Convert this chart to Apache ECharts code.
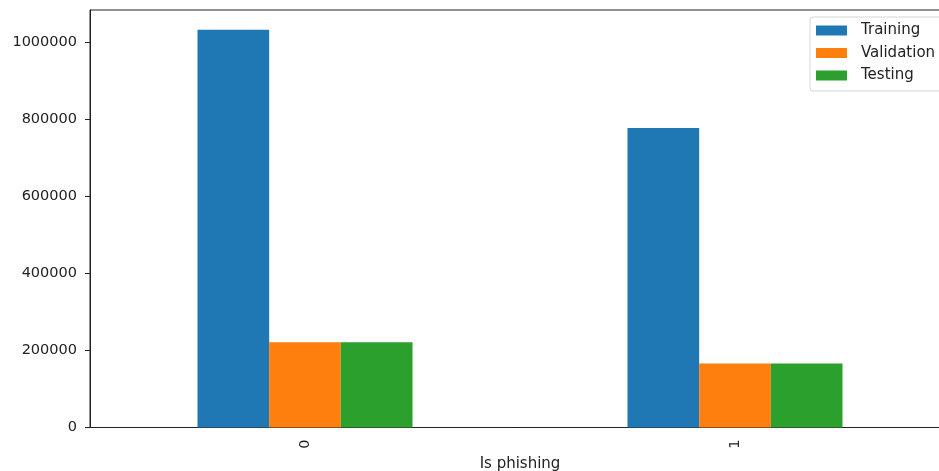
<!DOCTYPE html>
<html>
<head>
<meta charset="utf-8">
<script src="https://cdn.jsdelivr.net/npm/echarts@6/dist/echarts.min.js"></script>
<style>html,body{margin:0;padding:0;background:#fff;}#c{width:939px;height:471px;}</style>
</head>
<body>
<div id="c"></div>
<script>
const categories = ['0', '1'];
const training = [1032000, 777000];
const validation = [221000, 166000];
const testing = [221000, 166000];
const yTicks = [0, 200000, 400000, 600000, 800000, 1000000];
const yMax = 1083000;

const chart = echarts.init(document.getElementById('c'), null, {renderer: 'canvas'});
const font = 'DejaVu Sans';
chart.setOption({
  animation: false,
  color: ['#1f77b4', '#ff7f0e', '#2ca02c'],
  grid: {left: 90, top: 10, width: 860, height: 417.5, containLabel: false, outerBoundsMode: 'none',
         show: true, borderColor: '#222', borderWidth: 1, backgroundColor: 'transparent'},
  legend: {
    orient: 'vertical', left: 810, top: 17, itemWidth: 31, itemHeight: 10, itemGap: 7.5,
    padding: [6, 10, 8, 6], borderColor: '#d5d5d5', borderWidth: 1, borderRadius: 3,
    backgroundColor: '#fff', icon: 'rect',
    textStyle: {fontFamily: font, fontSize: 15, color: '#222', padding: [0, 0, 0, 9]},
    data: ['Training', 'Validation', 'Testing']
  },
  xAxis: {
    type: 'category', data: categories,
    axisLine: {lineStyle: {color: '#222', width: 1}},
    axisTick: {alignWithLabel: true, length: 5, lineStyle: {color: '#222'}},
    axisLabel: {rotate: 90, fontFamily: font, fontSize: 14.5, color: '#222', margin: 12},
    name: 'Is phishing', nameLocation: 'middle', nameGap: 26,
    nameTextStyle: {fontFamily: font, fontSize: 15, color: '#222'}
  },
  yAxis: {
    type: 'value', min: 0, max: yMax,
    axisLine: {show: true, lineStyle: {color: '#222', width: 1}},
    axisTick: {show: true, length: 5, customValues: yTicks, lineStyle: {color: '#222'}},
    axisLabel: {customValues: yTicks, formatter: v => String(v), fontFamily: font, fontSize: 14.5, color: '#222', margin: 13},
    splitLine: {show: false}
  },
  series: [
    {name: 'Training', type: 'bar', data: training, barGap: '0%', barCategoryGap: '50%'},
    {name: 'Validation', type: 'bar', data: validation, barGap: '0%', barCategoryGap: '50%'},
    {name: 'Testing', type: 'bar', data: testing, barGap: '0%', barCategoryGap: '50%'}
  ]
});
</script>
</body>
</html>
